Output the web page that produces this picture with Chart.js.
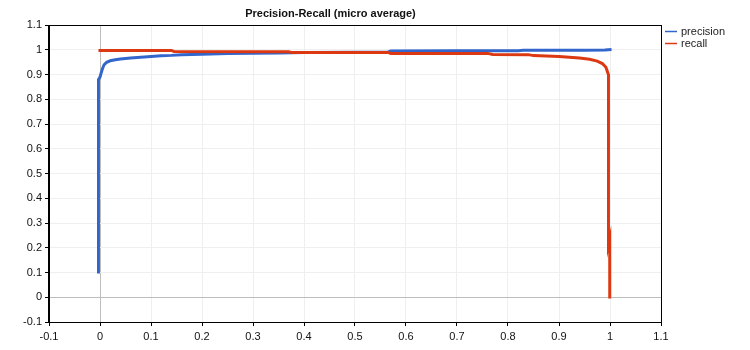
<!DOCTYPE html>
<html>
<head>
<meta charset="utf-8">
<title>Precision-Recall (micro average)</title>
<script src="https://cdn.jsdelivr.net/npm/chart.js@4/dist/chart.umd.min.js"></script>
<style>
    html, body { margin: 0; padding: 0; background: #fff; }
    #wrap { width: 750px; height: 350px; }
</style>
</head>
<body>
<div id="wrap"><canvas id="prChart" width="750" height="350"></canvas></div>
<script>
// Curve data: x = threshold, y = score
const precisionX = [-0.003, -0.003, 0.0, 0.002, 0.005, 0.008, 0.013, 0.02, 0.03, 0.04, 0.06, 0.08, 0.1, 0.12, 0.14, 0.16, 0.2, 0.25, 0.3, 0.35, 0.4, 0.5, 0.565, 0.57, 0.7, 0.82, 0.83, 0.95, 0.99, 1.003];
const precisionY = [0.096, 0.88, 0.89, 0.905, 0.925, 0.94, 0.95, 0.956, 0.96, 0.963, 0.967, 0.97, 0.973, 0.976, 0.978, 0.981, 0.983, 0.986, 0.987, 0.988, 0.99, 0.991, 0.992, 0.996, 0.997, 0.997, 0.999, 0.999, 1.0, 1.002];

const recallX = [-0.003, 0.14, 0.145, 0.37, 0.375, 0.565, 0.57, 0.76, 0.77, 0.84, 0.85, 0.9, 0.94, 0.96, 0.975, 0.985, 0.992, 0.997, 0.997, 0.9995, 0.9995];
const recallY = [0.998, 0.998, 0.994, 0.993, 0.99, 0.99, 0.986, 0.986, 0.982, 0.981, 0.977, 0.973, 0.967, 0.962, 0.955, 0.945, 0.93, 0.9, 0.213, 0.236, -0.005];

const seriesNames = ['precision', 'recall'];
const seriesColors = ['#3366cc', '#dc3912'];

const xTicks = [-0.1, 0, 0.1, 0.2, 0.3, 0.4, 0.5, 0.6, 0.7, 0.8, 0.9, 1, 1.1];
const yTicks = [-0.1, 0, 0.1, 0.2, 0.3, 0.4, 0.5, 0.6, 0.7, 0.8, 0.9, 1, 1.1];

const FONT = 'Arial, "Liberation Sans", sans-serif';

function toPoints(xs, ys) {
    return xs.map((x, i) => ({ x: x, y: ys[i] }));
}

function fmt(v) {
    return String(Number(v.toFixed(1)));
}

// Frame around the plot area plus a simple line legend on the right
const framePlugin = {
    id: 'frame',
    afterDraw(chart) {
        const { ctx, chartArea: a } = chart;
        ctx.save();
        ctx.strokeStyle = '#000';
        ctx.lineWidth = 1;
        ctx.strokeRect(Math.round(a.left) - 0.5, Math.round(a.top) + 0.5,
            Math.round(a.right - a.left) + 1, Math.round(a.bottom - a.top));

        ctx.font = '11px ' + FONT;
        ctx.textBaseline = 'middle';
        seriesNames.forEach((name, i) => {
            const y = 31.5 + i * 12;
            ctx.strokeStyle = seriesColors[i];
            ctx.lineWidth = 1.5;
            ctx.beginPath();
            ctx.moveTo(665, y);
            ctx.lineTo(677, y);
            ctx.stroke();
            ctx.fillStyle = '#222';
            ctx.fillText(name, 681, y);
        });
        ctx.restore();
    }
};

function axisOptions(values, fitKey, fitSize) {
    return {
        type: 'linear',
        min: -0.1,
        max: 1.1,
        afterBuildTicks: scale => { scale.ticks = values.map(v => ({ value: v })); },
        afterFit: scale => { scale[fitKey] = fitSize; },
        grid: {
            color: c => (c.tick && Math.abs(c.tick.value) < 1e-9) ? '#bdbdbd' : '#efefef',
            tickColor: '#000',
            tickLength: 4,
            lineWidth: 1
        },
        border: { display: true, color: '#000', width: 1 },
        ticks: {
            color: '#111',
            font: { family: FONT, size: 11 },
            padding: fitKey === 'width' ? 3 : 4,
            maxRotation: 0,
            autoSkip: false,
            callback: v => fmt(v)
        }
    };
}

document.addEventListener('DOMContentLoaded', function() {
    const ctx = document.getElementById('prChart').getContext('2d');

    new Chart(ctx, {
        type: 'line',
        data: {
            datasets: [
                {
                    label: seriesNames[0],
                    data: toPoints(precisionX, precisionY),
                    borderColor: seriesColors[0],
                    backgroundColor: seriesColors[0],
                    borderWidth: 3,
                    pointRadius: 0,
                    tension: 0,
                    order: 1
                },
                {
                    label: seriesNames[1],
                    data: toPoints(recallX, recallY),
                    borderColor: seriesColors[1],
                    backgroundColor: seriesColors[1],
                    borderWidth: 3,
                    pointRadius: 0,
                    tension: 0,
                    order: 0
                }
            ]
        },
        options: {
            responsive: false,
            animation: false,
            devicePixelRatio: 1,
            layout: { padding: { left: 0, right: 89, top: 0, bottom: 0 } },
            plugins: {
                legend: { display: false },
                tooltip: { enabled: false },
                title: {
                    display: true,
                    text: 'Precision-Recall (micro average)',
                    color: '#111',
                    font: { family: FONT, size: 11, weight: 'bold' },
                    padding: { top: 7, bottom: 5 }
                }
            },
            scales: {
                x: axisOptions(xTicks, 'height', 28),
                y: axisOptions(yTicks, 'width', 49)
            }
        },
        plugins: [framePlugin]
    });
});
</script>
</body>
</html>
